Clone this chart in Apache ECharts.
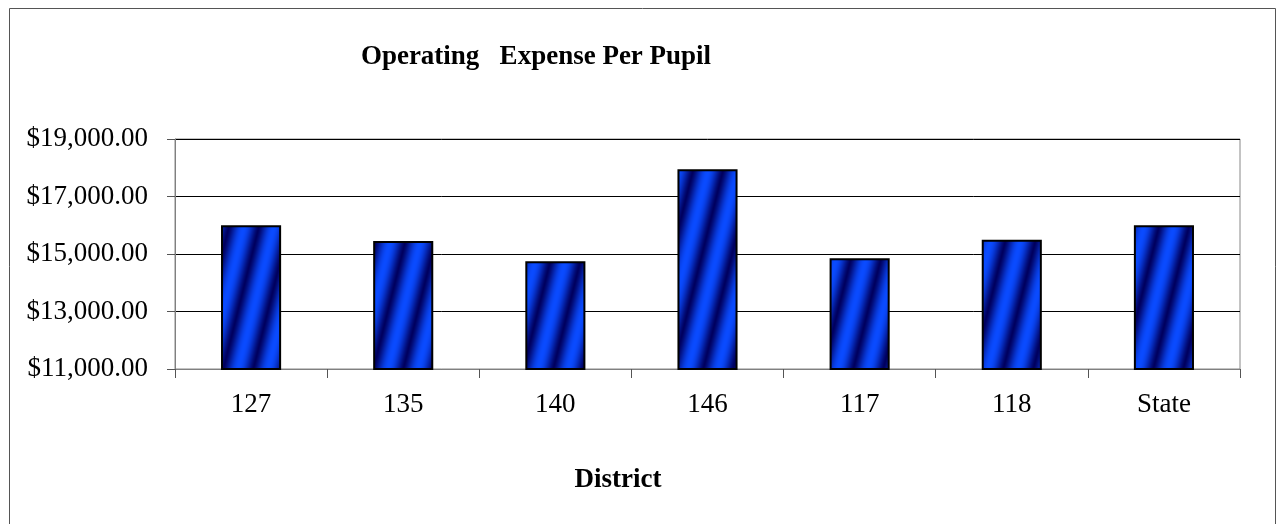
<!DOCTYPE html>
<html>
<head>
<meta charset="utf-8">
<script src="https://cdn.jsdelivr.net/npm/echarts@6/dist/echarts.min.js"></script>
<style>
  html, body { margin: 0; padding: 0; background: #fff; }
  #chart { width: 1282px; height: 524px; }
</style>
</head>
<body>
<div id="chart"></div>
<script>
const districts = ['127', '135', '140', '146', '117', '118', 'State']
const expensePerPupil = [16000, 15450, 14750, 17950, 14850, 15500, 16000]
const yTicks = { min: 11000, max: 19000, step: 2000 }

// diagonal striped fill like the old office gradient
function stripePattern() {
  const w = 30, h = 120
  const c = document.createElement('canvas')
  c.width = w
  c.height = h
  const ctx = c.getContext('2d')
  const img = ctx.createImageData(w, h)
  const dark = [0, 0, 95], bright = [10, 75, 255]
  for (let y = 0; y < h; y++) {
    for (let x = 0; x < w; x++) {
      const phase = ((x + y / 4) % w) / w
      let t = 0.5 + 0.5 * Math.cos(2 * Math.PI * phase)
      t = Math.pow(t, 0.7)
      const i = (y * w + x) * 4
      for (let k = 0; k < 3; k++) img.data[i + k] = Math.round(dark[k] + (bright[k] - dark[k]) * t)
      img.data[i + 3] = 255
    }
  }
  ctx.putImageData(img, 0, 0)
  return c
}

function money(v) {
  return '$' + v.toFixed(2).replace(/\B(?=(\d{3})+(?!\d))/g, ',')
}

const myChart = echarts.init(document.getElementById('chart'))
const option = {
  backgroundColor: '#fff',
  animation: false,
  title: [
    {
      text: 'Operating   Expense Per Pupil',
      left: 531,
      top: 39,
      textAlign: 'center',
      textStyle: { fontFamily: 'Liberation Serif', fontWeight: 'bold', fontSize: 27, color: '#000' }
    },
    {
      text: 'District',
      left: 613,
      top: 462,
      textAlign: 'center',
      textStyle: { fontFamily: 'Liberation Serif', fontWeight: 'bold', fontSize: 27, color: '#000' }
    }
  ],
  graphic: [
    {
      type: 'rect',
      shape: { x: 9.5, y: 8.5, width: 1266, height: 530 },
      style: { fill: 'none', stroke: '#555', lineWidth: 1 },
      silent: true
    }
  ],
  grid: {
    left: 175,
    right: 42,
    top: 139,
    bottom: 155,
    show: true,
    borderColor: '#888',
    borderWidth: 1
  },
  xAxis: {
    type: 'category',
    data: districts,
    axisLine: { lineStyle: { color: '#808080', width: 1 } },
    axisTick: { show: true, length: 9, lineStyle: { color: '#555' } },
    axisLabel: {
      margin: 22,
      fontFamily: 'Liberation Serif',
      fontSize: 27,
      color: '#000'
    }
  },
  yAxis: {
    type: 'value',
    min: yTicks.min,
    max: yTicks.max,
    interval: yTicks.step,
    axisLine: { show: true, lineStyle: { color: '#808080', width: 1 } },
    axisTick: { show: true, length: 8, lineStyle: { color: '#555' } },
    splitLine: { lineStyle: { color: '#000', width: 1 } },
    axisLabel: {
      margin: 27,
      fontFamily: 'Liberation Serif',
      fontSize: 27,
      color: '#000',
      formatter: money
    }
  },
  series: [
    {
      type: 'bar',
      data: expensePerPupil,
      barWidth: '39.5%',
      itemStyle: {
        color: { image: stripePattern(), repeat: 'repeat' },
        borderColor: '#000',
        borderWidth: 2
      }
    }
  ]
}

option && myChart.setOption(option)
</script>
</body>
</html>
